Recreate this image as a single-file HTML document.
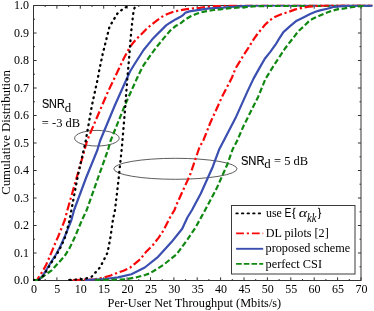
<!DOCTYPE html>
<html><head><meta charset="utf-8"><title>CDF</title>
<style>
html,body{margin:0;padding:0;background:#fff;}
svg{display:block;will-change:transform;opacity:0.999;}
text{font-family:"Liberation Serif",serif;font-size:12px;fill:#000;}
.sans{font-family:"Liberation Sans",sans-serif;}
</style></head><body>
<svg width="374" height="311" viewBox="0 0 374 311">
<rect width="374" height="311" fill="#fff"/>
<g stroke="#333" stroke-width="1" fill="none">
<path d="M361.0,5.5 H33.5 V280.5 H361.0"/>
<path d="M361.0,5.0 V281.0" stroke="#555" stroke-width="1.2"/>
<path d="M33.5,280.5 v-3.2 M33.5,5.5 v3.2"/>
<path d="M45.2,280.5 v-1.5 M45.2,5.5 v1.5"/>
<path d="M56.9,280.5 v-3.2 M56.9,5.5 v3.2"/>
<path d="M68.6,280.5 v-1.5 M68.6,5.5 v1.5"/>
<path d="M80.3,280.5 v-3.2 M80.3,5.5 v3.2"/>
<path d="M92.0,280.5 v-1.5 M92.0,5.5 v1.5"/>
<path d="M103.7,280.5 v-3.2 M103.7,5.5 v3.2"/>
<path d="M115.4,280.5 v-1.5 M115.4,5.5 v1.5"/>
<path d="M127.1,280.5 v-3.2 M127.1,5.5 v3.2"/>
<path d="M138.8,280.5 v-1.5 M138.8,5.5 v1.5"/>
<path d="M150.5,280.5 v-3.2 M150.5,5.5 v3.2"/>
<path d="M162.2,280.5 v-1.5 M162.2,5.5 v1.5"/>
<path d="M173.9,280.5 v-3.2 M173.9,5.5 v3.2"/>
<path d="M185.6,280.5 v-1.5 M185.6,5.5 v1.5"/>
<path d="M197.2,280.5 v-3.2 M197.2,5.5 v3.2"/>
<path d="M208.9,280.5 v-1.5 M208.9,5.5 v1.5"/>
<path d="M220.6,280.5 v-3.2 M220.6,5.5 v3.2"/>
<path d="M232.3,280.5 v-1.5 M232.3,5.5 v1.5"/>
<path d="M244.0,280.5 v-3.2 M244.0,5.5 v3.2"/>
<path d="M255.7,280.5 v-1.5 M255.7,5.5 v1.5"/>
<path d="M267.4,280.5 v-3.2 M267.4,5.5 v3.2"/>
<path d="M279.1,280.5 v-1.5 M279.1,5.5 v1.5"/>
<path d="M290.8,280.5 v-3.2 M290.8,5.5 v3.2"/>
<path d="M302.5,280.5 v-1.5 M302.5,5.5 v1.5"/>
<path d="M314.2,280.5 v-3.2 M314.2,5.5 v3.2"/>
<path d="M325.9,280.5 v-1.5 M325.9,5.5 v1.5"/>
<path d="M337.6,280.5 v-3.2 M337.6,5.5 v3.2"/>
<path d="M349.3,280.5 v-1.5 M349.3,5.5 v1.5"/>
<path d="M361.0,280.5 v-3.2 M361.0,5.5 v3.2"/>
<path d="M33.5,280.5 h3.1 M361.0,280.5 h-3.1"/>
<path d="M33.5,266.8 h1.5 M361.0,266.8 h-1.5"/>
<path d="M33.5,253.0 h3.1 M361.0,253.0 h-3.1"/>
<path d="M33.5,239.2 h1.5 M361.0,239.2 h-1.5"/>
<path d="M33.5,225.5 h3.1 M361.0,225.5 h-3.1"/>
<path d="M33.5,211.8 h1.5 M361.0,211.8 h-1.5"/>
<path d="M33.5,198.0 h3.1 M361.0,198.0 h-3.1"/>
<path d="M33.5,184.2 h1.5 M361.0,184.2 h-1.5"/>
<path d="M33.5,170.5 h3.1 M361.0,170.5 h-3.1"/>
<path d="M33.5,156.8 h1.5 M361.0,156.8 h-1.5"/>
<path d="M33.5,143.0 h3.1 M361.0,143.0 h-3.1"/>
<path d="M33.5,129.2 h1.5 M361.0,129.2 h-1.5"/>
<path d="M33.5,115.5 h3.1 M361.0,115.5 h-3.1"/>
<path d="M33.5,101.8 h1.5 M361.0,101.8 h-1.5"/>
<path d="M33.5,88.0 h3.1 M361.0,88.0 h-3.1"/>
<path d="M33.5,74.2 h1.5 M361.0,74.2 h-1.5"/>
<path d="M33.5,60.5 h3.1 M361.0,60.5 h-3.1"/>
<path d="M33.5,46.7 h1.5 M361.0,46.7 h-1.5"/>
<path d="M33.5,33.0 h3.1 M361.0,33.0 h-3.1"/>
<path d="M33.5,19.2 h1.5 M361.0,19.2 h-1.5"/>
<path d="M33.5,5.5 h3.1 M361.0,5.5 h-3.1"/>
</g>
<text x="33.9" y="292.9" text-anchor="middle">0</text>
<text x="57.3" y="292.9" text-anchor="middle">5</text>
<text x="80.7" y="292.9" text-anchor="middle">10</text>
<text x="104.1" y="292.9" text-anchor="middle">15</text>
<text x="127.5" y="292.9" text-anchor="middle">20</text>
<text x="150.9" y="292.9" text-anchor="middle">25</text>
<text x="174.3" y="292.9" text-anchor="middle">30</text>
<text x="197.7" y="292.9" text-anchor="middle">35</text>
<text x="221.0" y="292.9" text-anchor="middle">40</text>
<text x="244.4" y="292.9" text-anchor="middle">45</text>
<text x="267.8" y="292.9" text-anchor="middle">50</text>
<text x="291.2" y="292.9" text-anchor="middle">55</text>
<text x="314.6" y="292.9" text-anchor="middle">60</text>
<text x="338.0" y="292.9" text-anchor="middle">65</text>
<text x="361.4" y="292.9" text-anchor="middle">70</text>
<text x="29" y="284.1" text-anchor="end">0.0</text>
<text x="29" y="256.6" text-anchor="end">0.1</text>
<text x="29" y="229.1" text-anchor="end">0.2</text>
<text x="29" y="201.6" text-anchor="end">0.3</text>
<text x="29" y="174.1" text-anchor="end">0.4</text>
<text x="29" y="146.6" text-anchor="end">0.5</text>
<text x="29" y="119.1" text-anchor="end">0.6</text>
<text x="29" y="91.6" text-anchor="end">0.7</text>
<text x="29" y="64.1" text-anchor="end">0.8</text>
<text x="29" y="36.6" text-anchor="end">0.9</text>
<text x="29" y="9.1" text-anchor="end">1.0</text>
<text x="107.6" y="306.9" font-size="12.7" textLength="173.6" lengthAdjust="spacingAndGlyphs">Per-User Net Throughput (Mbits/s)</text>
<text transform="translate(10,194.8) rotate(-90)" font-size="12.8" textLength="124.6" lengthAdjust="spacingAndGlyphs">Cumulative Distribution</text>
<ellipse cx="96.9" cy="138.2" rx="22.3" ry="7.8" fill="none" stroke="#333" stroke-width="0.8"/>
<ellipse cx="175.4" cy="168.8" rx="61.6" ry="10.5" fill="none" stroke="#333" stroke-width="0.8"/>
<clipPath id="pc"><rect x="33" y="4.7" width="341" height="276.3"/></clipPath>
<g fill="none" stroke-linejoin="round" clip-path="url(#pc)">
<path d="M33.4,280.0 L37.3,280.0 L38.0,278.3 L42.3,271.8 L45.9,265.3 L48.8,258.8 L52.4,250.1 L56.0,241.4 L58.0,237.0 L64.8,220.0 L67.4,210.0 L76.0,180.0 L84.5,150.0 L87.0,141.0 L92.1,128.8 L100.1,110.1 L108.1,91.4 L118.3,70.0 L124.0,58.0 L130.0,46.8 L133.0,43.0 L136.0,39.4 L140.7,34.8 L146.0,29.4 L151.4,24.7 L156.7,20.7 L162.1,16.7 L167.4,14.0 L172.8,12.0 L178.1,10.7 L186.7,9.1 L193.4,8.3 L200.0,7.8 L206.7,7.0 L213.4,6.3 L220.1,5.9 L230.0,5.4 L250.0,5.1 L372.0,5.0" stroke="#f80808" stroke-width="2.2" stroke-dasharray="8.2 2.8 2.2 2.8"/>
<path d="M33.4,280.0 L38.6,280.0 L39.4,279.2 L43.0,275.4 L47.3,268.2 L51.7,261.0 L56.0,254.5 L60.3,246.5 L63.2,240.0 L65.0,236.0 L71.4,220.0 L74.1,210.0 L86.0,178.0 L97.4,150.0 L100.0,141.0 L115.0,105.0 L130.0,71.5 L134.0,65.0 L137.8,59.0 L143.6,50.0 L148.0,44.6 L152.1,39.6 L156.7,34.8 L161.4,30.1 L166.1,25.4 L170.1,22.7 L175.5,19.4 L180.0,17.1 L182.7,15.4 L185.3,12.7 L189.4,11.4 L196.0,10.4 L202.7,9.4 L209.4,8.4 L216.1,8.0 L222.8,7.6 L230.0,7.0 L240.0,6.3 L250.0,5.7 L270.0,5.5 L372.0,5.5" stroke="#3a4fb0" stroke-width="2.2"/>
<path d="M33.4,280.0 L38.5,280.0 L41.0,278.0 L44.5,275.4 L51.7,270.3 L58.2,263.1 L64.7,255.9 L69.7,247.9 L73.1,240.7 L75.3,236.0 L82.0,220.0 L86.7,210.0 L98.0,178.0 L108.0,150.0 L110.5,141.0 L125.0,105.0 L136.7,78.9 L141.0,70.0 L143.4,65.5 L151.4,54.0 L157.0,46.5 L162.8,39.4 L166.1,35.4 L170.1,30.7 L175.5,26.1 L180.0,23.8 L185.3,19.4 L190.7,16.3 L196.0,14.0 L201.4,12.3 L206.7,11.1 L213.4,10.0 L220.1,9.4 L230.0,8.1 L243.0,7.3 L256.7,6.2 L270.0,5.9 L372.0,5.9" stroke="#118811" stroke-width="2.2" stroke-dasharray="5.6 2.6"/>
<path d="M33.4,280.0 L38.6,280.0 L39.8,279.0 L43.6,275.4 L48.0,268.2 L52.4,261.0 L56.7,254.5 L61.0,246.5 L64.0,240.0 L65.5,236.0 L69.6,220.0 L71.4,210.0 L78.0,175.0 L85.5,142.0 L92.0,105.0 L98.0,77.5 L99.3,70.0 L102.8,53.5 L109.5,26.7 L117.5,13.4 L124.0,8.0 L130.0,5.3" stroke="#000000" stroke-width="2.3" stroke-linecap="round" stroke-dasharray="0.7 4.8"/>
<path d="M72.8,280.0 L95.0,279.3 L104.3,277.5 L110.7,275.5 L117.1,273.0 L123.5,270.7 L129.9,267.8 L134.7,263.8 L140.2,259.3 L145.9,252.1 L153.1,244.8 L158.7,237.6 L163.5,230.4 L170.0,217.5 L174.5,210.0 L176.7,204.2 L190.1,174.8 L199.4,147.5 L203.5,140.0 L210.0,123.5 L222.1,96.7 L232.0,77.5 L235.3,68.8 L239.4,62.1 L243.4,55.4 L248.7,47.4 L252.7,40.7 L257.4,34.0 L260.7,30.0 L265.0,24.8 L270.0,20.1 L275.3,16.7 L282.0,14.0 L288.7,11.8 L295.4,9.4 L302.1,7.8 L308.8,6.7 L315.5,6.0 L325.0,5.4 L340.0,5.0 L372.5,4.8" stroke="#f80808" stroke-width="2.2" stroke-dasharray="8.2 2.8 2.2 2.8"/>
<path d="M85.0,280.0 L105.0,279.0 L118.0,277.4 L131.4,274.2 L144.8,267.5 L158.1,256.8 L171.5,242.1 L182.2,228.7 L187.4,217.5 L192.0,210.0 L200.8,193.5 L212.8,166.7 L219.4,148.9 L224.1,140.0 L235.5,118.1 L247.5,91.4 L253.4,78.9 L258.7,69.4 L264.8,58.7 L270.1,52.1 L275.5,44.7 L278.7,39.4 L283.4,32.1 L290.1,26.1 L296.7,20.7 L303.4,17.4 L310.1,14.0 L315.5,11.8 L320.0,10.4 L327.2,8.7 L334.4,6.8 L341.7,6.1 L348.9,5.7 L372.5,5.6" stroke="#3a4fb0" stroke-width="2.2"/>
<path d="M95.0,280.0 L115.0,279.7 L126.0,279.2 L136.7,277.3 L145.0,275.0 L150.0,273.3 L163.5,264.8 L176.8,254.1 L187.5,239.4 L195.6,227.4 L203.5,213.0 L216.8,188.1 L227.5,164.0 L232.8,148.9 L236.9,141.3 L243.5,126.1 L258.2,96.7 L265.5,78.9 L271.4,69.4 L275.5,62.8 L280.0,56.1 L285.0,48.5 L290.0,42.0 L294.1,36.8 L298.1,31.4 L303.4,26.7 L308.8,21.4 L312.8,18.7 L320.0,15.6 L325.8,13.0 L331.6,10.8 L337.3,9.4 L344.5,8.4 L351.8,7.2 L357.5,6.5 L363.5,6.0" stroke="#118811" stroke-width="2.2" stroke-dasharray="5.6 2.6"/>
<path d="M70.0,280.0 L84.0,279.0 L91.5,276.8 L100.0,267.5 L107.5,252.8 L110.5,237.0 L112.9,220.0 L115.0,210.0 L118.5,180.0 L122.0,146.0 L125.0,110.0 L127.4,77.5 L129.5,53.5 L130.5,40.0 L131.4,30.0 L132.6,19.0 L133.6,10.5 L135.5,5.4" stroke="#000000" stroke-width="2.3" stroke-linecap="round" stroke-dasharray="0.7 4.8"/>
</g>
<text class="sans" x="41.9" y="107.6" font-size="14.4" textLength="22.8" lengthAdjust="spacingAndGlyphs" stroke="#000" stroke-width="0.15">SNR</text>
<text x="64.8" y="111.9" font-size="14.2" textLength="6.4" lengthAdjust="spacingAndGlyphs">d</text>
<text x="41.8" y="127.1" textLength="38.3" lengthAdjust="spacingAndGlyphs">= -3 dB</text>
<text class="sans" x="240.9" y="164.7" font-size="14.4" textLength="23.6" lengthAdjust="spacingAndGlyphs" stroke="#000" stroke-width="0.15">SNR</text>
<text x="264.2" y="168.3" font-size="14.2" textLength="6.4" lengthAdjust="spacingAndGlyphs">d</text>
<text x="274.1" y="164.7" textLength="34.1" lengthAdjust="spacingAndGlyphs">= 5 dB</text>
<rect x="231.5" y="205.5" width="123.5" height="68.5" fill="#fff" stroke="#3a3a3a" stroke-width="1"/>
<g fill="none">
<path d="M236.3,213.4 H261" stroke="#000" stroke-width="1.8" stroke-linecap="round" stroke-dasharray="1.5 4.1"/>
<path d="M236.1,233.4 H263.2" stroke="#f80808" stroke-width="1.9" stroke-dasharray="7.8 2.9 2.2 2.9"/>
<path d="M236.1,248.8 H263.2" stroke="#3a4fb0" stroke-width="1.9"/>
<path d="M236.1,263.9 H263.2" stroke="#118811" stroke-width="1.9" stroke-dasharray="5.6 2.1"/>
</g>
<text x="265.9" y="216.9">use</text>
<text class="sans" x="284.6" y="216.9" font-size="11.9" textLength="6.9" lengthAdjust="spacingAndGlyphs">E</text>
<text transform="translate(291.6,216.6) scale(0.8,1)" font-size="15.5" stroke="#000" stroke-width="0.35">{</text>
<text transform="translate(298.7,217.2) scale(1.35,1)" font-style="italic" font-size="15">α</text>
<text x="307" y="222.2" font-style="italic" font-size="11.5" textLength="9.4" lengthAdjust="spacingAndGlyphs">kk</text>
<text transform="translate(317.2,216.6) scale(0.8,1)" font-size="15.5" stroke="#000" stroke-width="0.35">}</text>
<text x="265.8" y="236.9" textLength="62.9" lengthAdjust="spacingAndGlyphs">DL pilots [2]</text>
<text x="265.5" y="252.3" textLength="84.8" lengthAdjust="spacingAndGlyphs">proposed scheme</text>
<text x="265.5" y="267.7" textLength="56.5" lengthAdjust="spacingAndGlyphs">perfect CSI</text>
</svg></body></html>
